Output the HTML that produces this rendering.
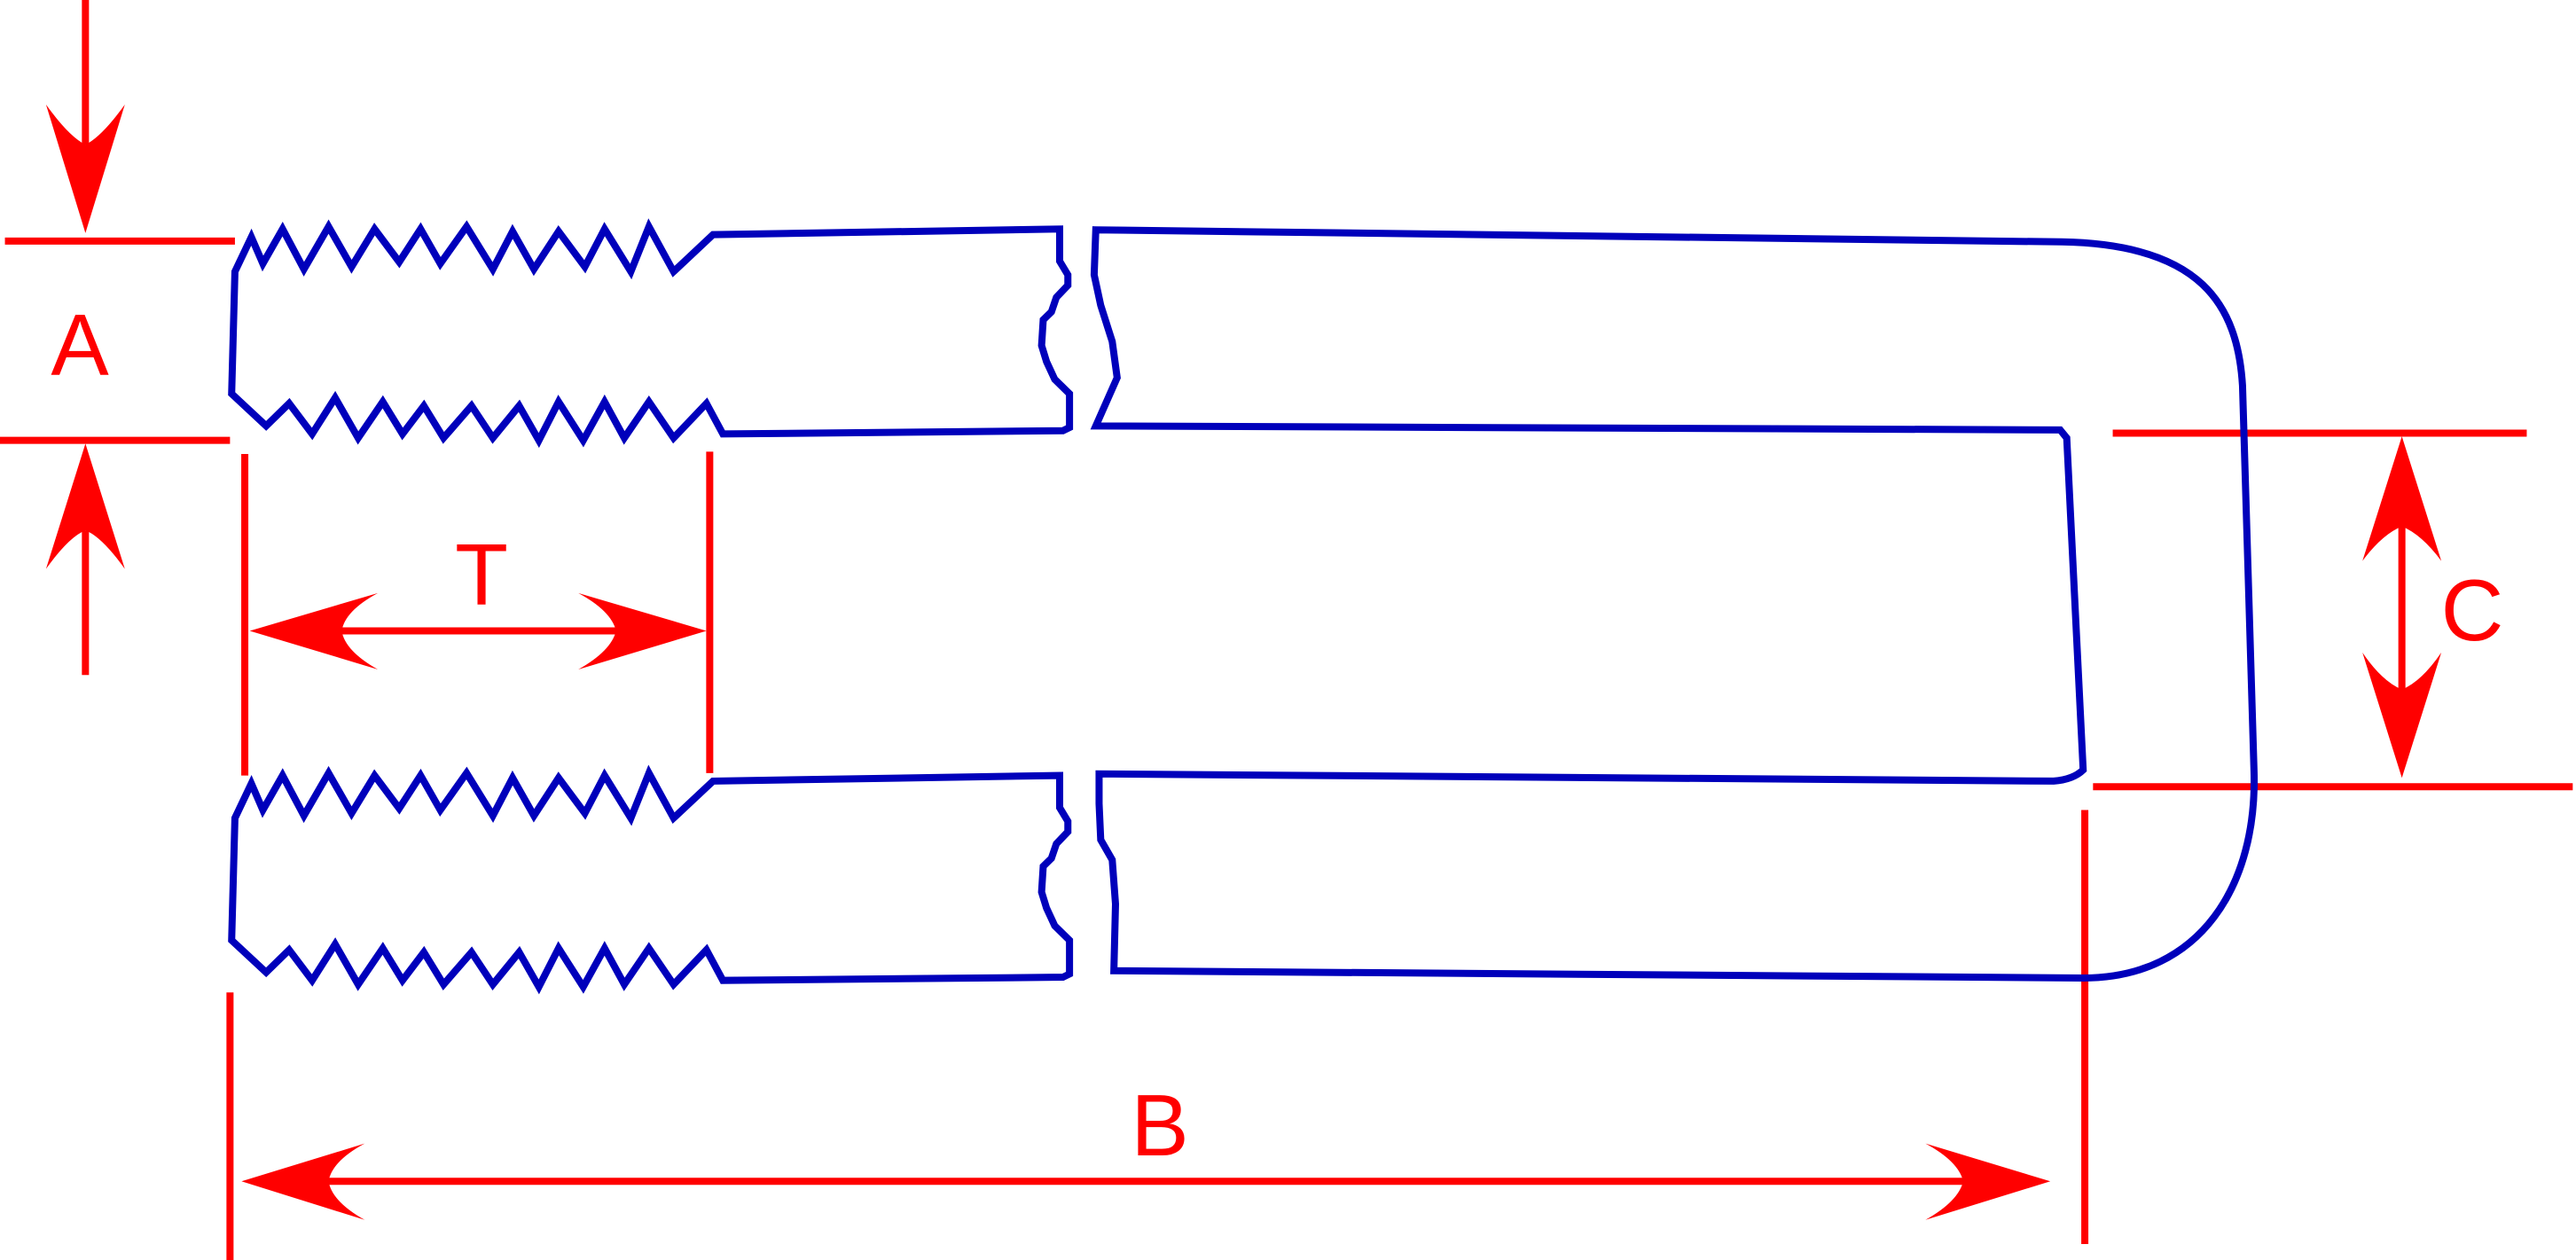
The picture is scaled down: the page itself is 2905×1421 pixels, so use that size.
<!DOCTYPE html>
<html><head><meta charset="utf-8"><style>html,body{margin:0;padding:0;background:#fff;}svg{display:block;}</style></head>
<body>
<svg width="2905" height="1421" viewBox="0 0 2905 1421" xmlns="http://www.w3.org/2000/svg">
<g transform="scale(1.8527,0.9063)">
<g stroke="#ff0000" stroke-width="8" vector-effect="non-scaling-stroke" fill="none">
<line x1="52" y1="0" x2="52" y2="180" vector-effect="non-scaling-stroke"/>
<line x1="3" y1="300" x2="143" y2="300" vector-effect="non-scaling-stroke"/>
<line x1="0" y1="548" x2="140" y2="548" vector-effect="non-scaling-stroke"/>
<line x1="52" y1="660" x2="52" y2="840" vector-effect="non-scaling-stroke"/>
<line x1="149" y1="565" x2="149" y2="965" vector-effect="non-scaling-stroke"/>
<line x1="432" y1="562" x2="432" y2="962" vector-effect="non-scaling-stroke"/>
<line x1="205" y1="785" x2="378" y2="785" vector-effect="non-scaling-stroke"/>
<line x1="140" y1="1235" x2="140" y2="1568" vector-effect="non-scaling-stroke"/>
<line x1="198" y1="1470" x2="1198" y2="1470" vector-effect="non-scaling-stroke"/>
<line x1="1269" y1="1008" x2="1269" y2="1548" vector-effect="non-scaling-stroke"/>
<line x1="1286" y1="539" x2="1538" y2="539" vector-effect="non-scaling-stroke"/>
<line x1="1274" y1="979" x2="1566" y2="979" vector-effect="non-scaling-stroke"/>
<line x1="1462" y1="652" x2="1462" y2="861" vector-effect="non-scaling-stroke"/>
</g>
<g fill="#ff0000">
<path d="M52,290 L28,130 Q42,170 52,180 Q62,170 76,130 Z"/>
<path d="M52,552 L28,708 Q42,668 52,660 Q62,668 76,708 Z"/>
<path d="M152,785 L230,738 Q210,760 208,785 Q210,810 230,833 Z"/>
<path d="M430,785 L352,738 Q372,760 375,785 Q372,810 352,833 Z"/>
<path d="M147,1470 L222,1423 Q202,1445 200,1470 Q202,1495 222,1518 Z"/>
<path d="M1248,1470 L1172,1423 Q1192,1445 1195,1470 Q1192,1495 1172,1518 Z"/>
<path d="M1462,543 L1438,698 Q1450,665 1462,655 Q1474,665 1486,698 Z"/>
<path d="M1462,968 L1438,812 Q1450,848 1462,858 Q1474,848 1486,812 Z"/>
</g>
<g fill="none" stroke="#0000bb" stroke-width="8" stroke-linejoin="miter">
<path vector-effect="non-scaling-stroke" d="M143,338 L153,295 L160,328 L172,285 L185,335 L200,282 L214,332 L228,285 L243,326 L256,285 L268,328 L284,282 L300,335 L312,288 L325,335 L340,288 L356,332 L368,285 L384,338 L395,282 L410,338 L434,292 L645,285 L645,325 L650,342 L650,355 L643,370 L640,388 L635,398 L634,430 L637,450 L642,472 L651,490 L651,532 L647,536 L440,540 L430,502 L410,545 L395,500 L380,545 L368,500 L355,548 L340,500 L328,548 L316,505 L300,545 L287,505 L270,545 L258,505 L245,540 L233,500 L218,545 L204,495 L190,540 L176,502 L162,530 L141,490 Z"/>
<path vector-effect="non-scaling-stroke" transform="translate(0,680)" d="M143,338 L153,295 L160,328 L172,285 L185,335 L200,282 L214,332 L228,285 L243,326 L256,285 L268,328 L284,282 L300,335 L312,288 L325,335 L340,288 L356,332 L368,285 L384,338 L395,282 L410,338 L434,292 L645,285 L645,325 L650,342 L650,355 L643,370 L640,388 L635,398 L634,430 L637,450 L642,472 L651,490 L651,532 L647,536 L440,540 L430,502 L410,545 L395,500 L380,545 L368,500 L355,548 L340,500 L328,548 L316,505 L300,545 L287,505 L270,545 L258,505 L245,540 L233,500 L218,545 L204,495 L190,540 L176,502 L162,530 L141,490 Z"/>
<path vector-effect="non-scaling-stroke" d="M667,286 L1255,301 C1340,304 1362,380 1365,480 L1372,960 C1374,1100 1340,1217 1268,1217 L678,1208 L679,1125 L677,1070 L670,1045 L669,1000 L669,963 L1250,972 Q1262,970 1268,958 L1258,545 L1254,535 L667,530 L680,470 L677,425 L670,380 L666,342 Z"/>
</g>
</g>
<g font-family="Liberation Sans, sans-serif" fill="#ff0000" text-anchor="middle" font-size="98">
<text x="90" y="423">A</text>
<text x="543" y="682">T</text>
<text x="1308" y="1303">B</text>
<text x="2788" y="722">C</text>
</g>
</svg>
</body></html>
